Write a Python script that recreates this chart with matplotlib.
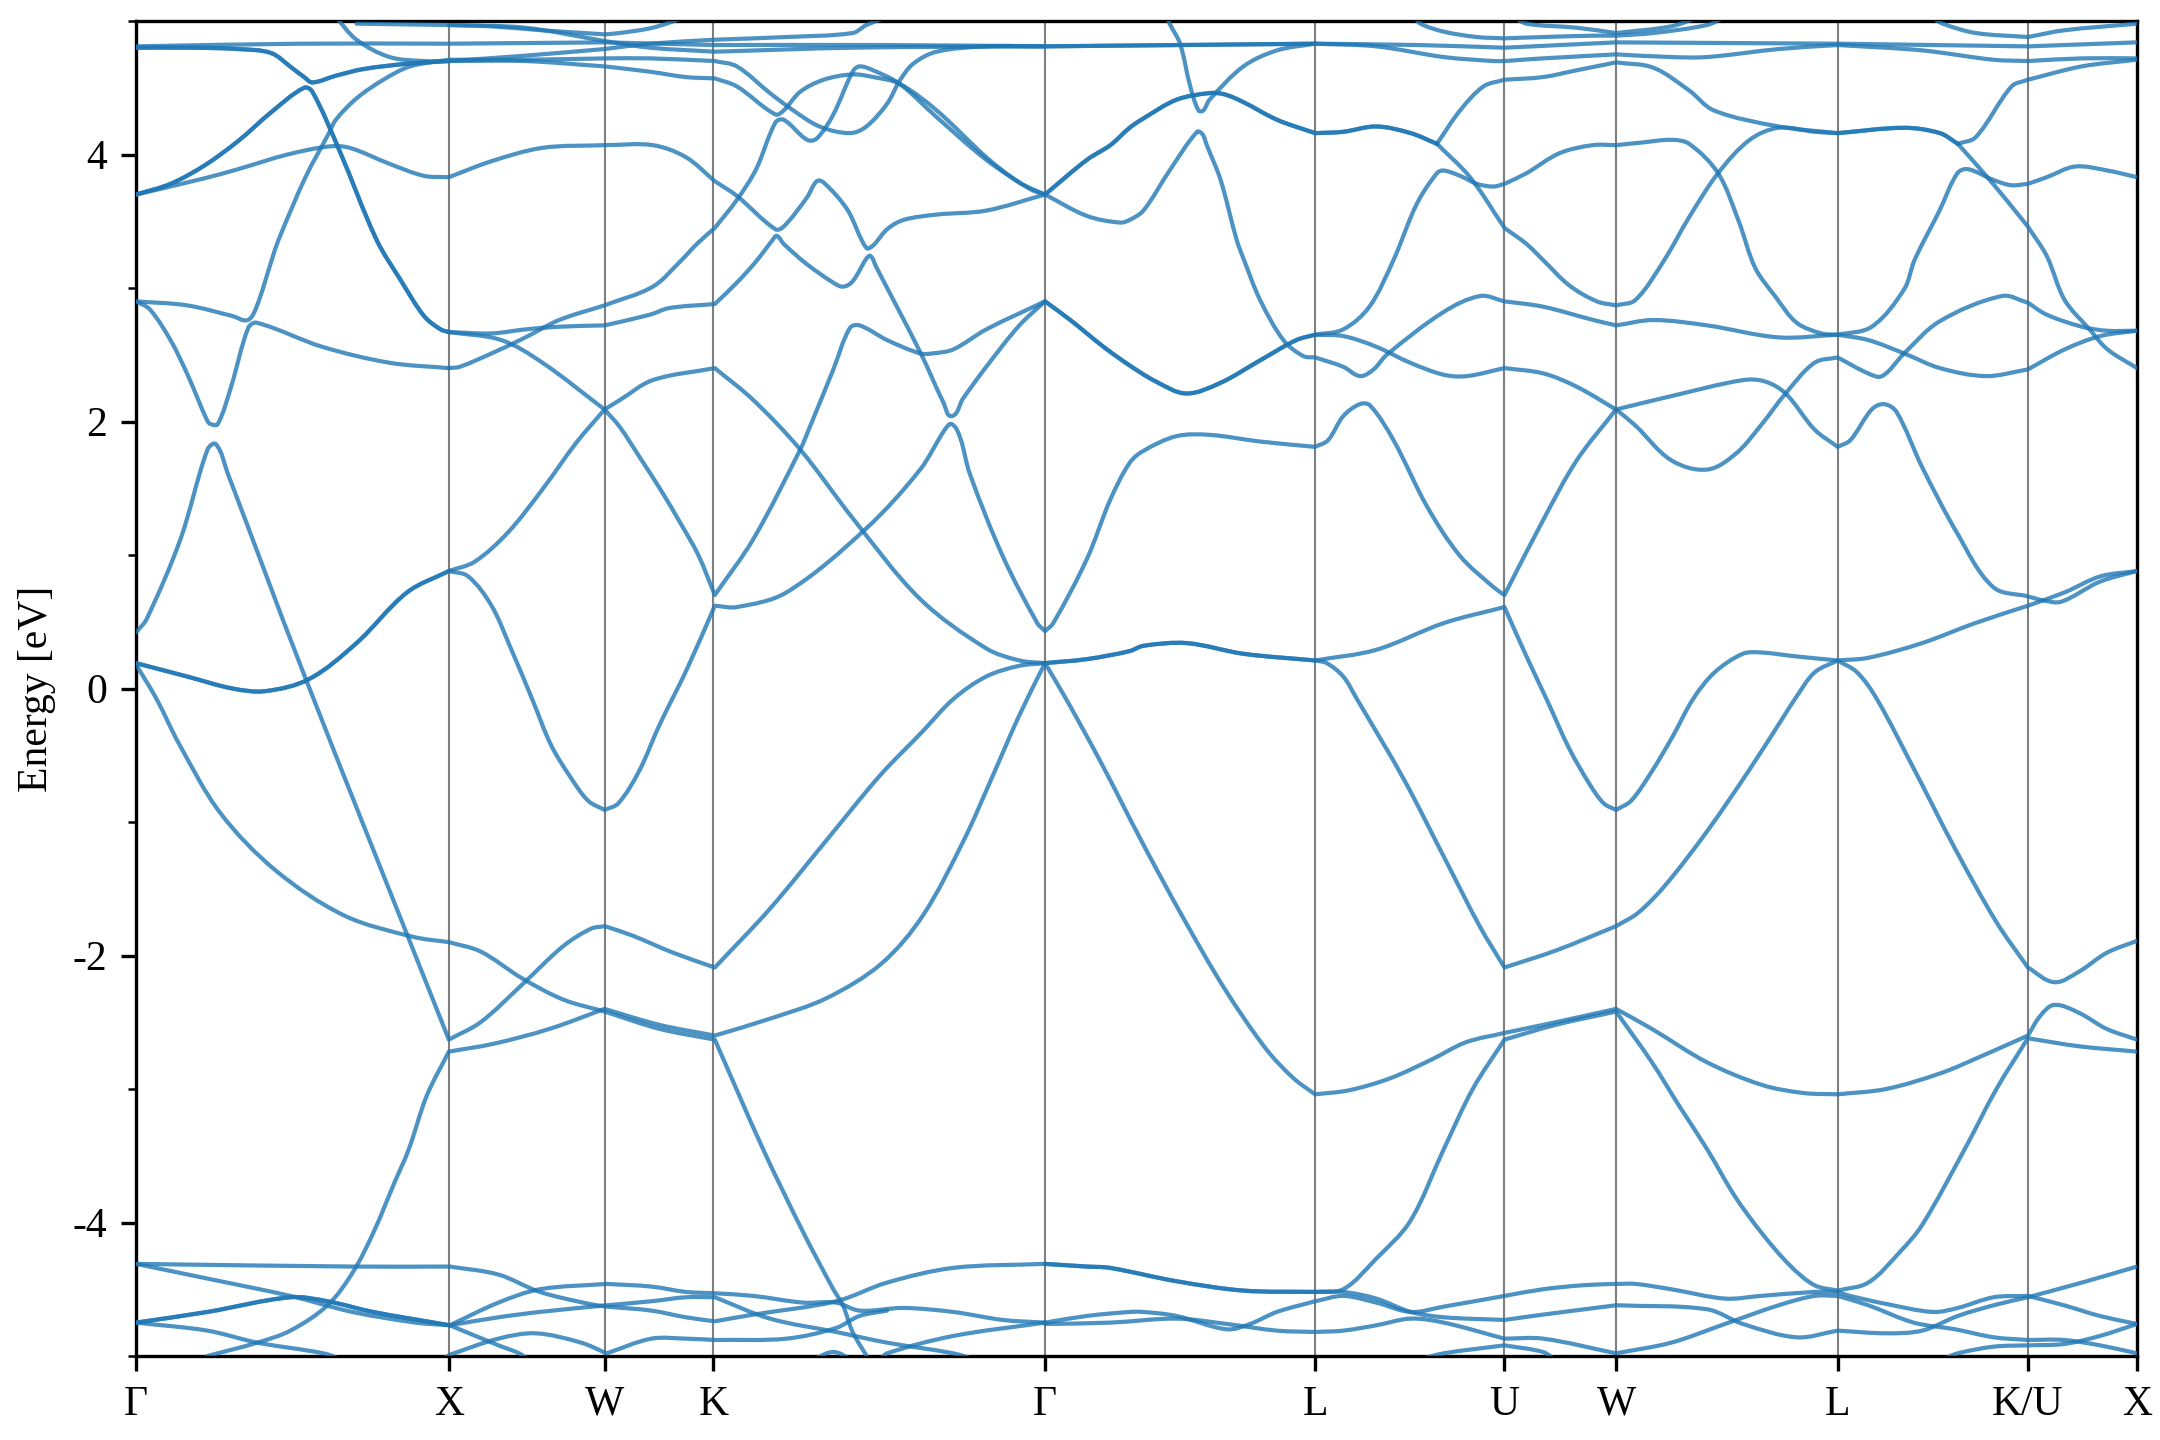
import matplotlib
matplotlib.use("Agg")

import math
import matplotlib.pyplot as plt
from matplotlib.path import Path
from matplotlib.patches import PathPatch
from matplotlib.ticker import MultipleLocator

# ================= DATA =================
# k = distance along the Brillouin-zone path (arb. units), E = energy in eV
HSP_LABELS = ["Γ", "X", "W", "K", "Γ", "L", "U", "W", "L", "K/U", "X"]
HSP_K = [0, 227, 340, 419, 659.6, 855.6, 993, 1074, 1234.8, 1372.8, 1452]

E_MIN, E_MAX = -5, 5

# bands that are (nearly) two-fold degenerate, drawn twice so they look darker
DEGENERATE_BANDS = [
    [(0, 4.80), (40, 4.80), (74, 4.79), (98, 4.76), (113, 4.65), (122, 4.58), (128, 4.54),
     (145, 4.59), (165, 4.64), (197, 4.68), (227, 4.70)],
    [(0, 3.70), (25, 3.78), (50, 3.92), (74, 4.10), (98.5, 4.32), (122, 4.50), (128, 4.47),
     (147.6, 4.03), (174.6, 3.36), (192, 3.06), (209, 2.79), (221, 2.69), (227, 2.67)],
    [(0, 0.19), (37, 0.09), (70, 0.0), (93.6, -0.02), (125.5, 0.07), (160, 0.34),
     (196.7, 0.72), (227, 0.88)],
    [(0, -4.75), (51.8, -4.67), (112, -4.56), (139, -4.59), (172, -4.67), (227.7, -4.77)],
    [(659.6, 3.70), (690, 3.96), (707, 4.07), (721, 4.20), (731, 4.27), (755, 4.41),
     (779, 4.46), (790, 4.45), (804, 4.39), (828, 4.26), (855.6, 4.16), (876, 4.17),
     (900, 4.21), (925, 4.16), (944, 4.08)],
    [(659.6, 2.90), (678, 2.76), (702, 2.56), (721, 2.42), (740, 2.30), (762, 2.21),
     (787, 2.29), (816, 2.46), (842, 2.61), (855.6, 2.65)],
    [(659.6, 0.19), (690, 0.22), (721, 0.28), (731, 0.32), (762.5, 0.34), (803.6, 0.26),
     (855.6, 0.21)],
    [(659.6, -4.31), (690, -4.33), (706.8, -4.34), (755, -4.44), (803.6, -4.51), (855.6, -4.52)],
    [(1234.8, 4.16), (1283, 4.20), (1309, 4.16), (1322, 4.08)],
]

UPPER_BANDS = [
    # flat band near 4.8 eV running along the whole path
    [(0, 4.81), (120, 4.83), (227, 4.83), (340, 4.84), (420, 4.82), (540, 4.82), (659.6, 4.81),
     (760, 4.82), (855.6, 4.83), (930, 4.82), (993, 4.80), (1074, 4.84), (1234.8, 4.83),
     (1372.8, 4.81), (1452, 4.84)],
    [(145, 5.03), (160, 4.86), (184, 4.73), (209, 4.70), (227, 4.70), (282, 4.74), (340, 4.79),
     (373, 4.83), (420, 4.86), (472, 4.88), (520, 4.91), (530, 4.97), (545, 5.03)],
    [(160, 4.98), (227, 4.97), (258, 4.96), (295, 4.93), (340, 4.90), (351, 4.91), (375, 4.95),
     (399, 5.03)],
    [(227, 4.97), (282, 4.95), (340, 4.85), (373, 4.80), (420, 4.77), (520, 4.80), (659.6, 4.81),
     (755, 4.82), (855.6, 4.83)],
    [(0, 3.70), (49, 3.82), (74, 3.89), (110, 4.00), (140, 4.06), (155, 4.05), (184, 3.93),
     (209, 3.84), (227, 3.83), (258, 3.95), (295, 4.05), (340, 4.07), (375, 4.07), (399, 3.98),
     (420, 3.80), (436, 3.69), (464, 3.44), (470, 3.46), (487, 3.68), (494, 3.80), (499, 3.79),
     (516, 3.59), (530, 3.30), (535, 3.32), (545, 3.44), (557, 3.51), (581, 3.55), (617, 3.58),
     (659.6, 3.70)],
    [(0, 2.90), (37, 2.87), (70, 2.79), (81, 2.76), (87.5, 2.86), (98.5, 3.21), (103.4, 3.36),
     (123, 3.83), (140, 4.16), (145, 4.26), (160, 4.42), (179.5, 4.56), (199, 4.66), (227, 4.71),
     (282, 4.71), (340, 4.72), (373, 4.72), (420, 4.70), (436, 4.66), (460, 4.46), (477, 4.33),
     (496, 4.21), (518, 4.16), (530, 4.21), (545, 4.38), (554, 4.55), (564, 4.68), (581, 4.77),
     (617, 4.81), (659.6, 4.81)],
    [(227, 4.70), (282, 4.70), (340, 4.66), (373, 4.62), (399, 4.58), (420, 4.57), (436, 4.51),
     (464, 4.30), (470, 4.33), (482, 4.47), (499, 4.56), (520, 4.60), (535, 4.58), (554, 4.53),
     (581, 4.33), (617, 3.98), (641, 3.79), (659.6, 3.70)],
    [(227, 2.67), (258, 2.66), (282.6, 2.69), (307, 2.71), (340, 2.72), (372.9, 2.80), (387, 2.85),
     (420, 2.88), (436, 3.04), (450, 3.20), (462, 3.36), (465, 3.39), (470, 3.33), (486.6, 3.18),
     (506, 3.04), (513, 3.01), (520, 3.05), (530, 3.22), (533, 3.24), (537, 3.16), (569, 2.52),
     (586, 2.14), (592, 2.04), (600, 2.17), (617, 2.41), (641, 2.72), (659.6, 2.90)],
    [(227, 2.40), (235, 2.41), (258, 2.51), (282.6, 2.63), (307, 2.76), (340, 2.87), (375, 3.01),
     (395, 3.20), (407, 3.33), (420, 3.45), (436, 3.66), (450, 3.89), (464, 4.24), (470, 4.26),
     (487, 4.11), (494, 4.12), (506, 4.30), (520, 4.62), (525, 4.66), (535, 4.63), (554, 4.53),
     (581, 4.28), (617, 3.96), (649, 3.74), (659.6, 3.70)],
    [(0, 2.90), (10, 2.84), (25, 2.61), (37, 2.36), (52, 2.00), (54.4, 1.98), (59.3, 1.98),
     (69, 2.26), (81.4, 2.70), (87.5, 2.74), (135, 2.56), (184, 2.44), (227, 2.40)],
    [(748, 5.03), (750, 4.98), (757.6, 4.83), (765, 4.51), (771, 4.33), (774.5, 4.33), (779, 4.41),
     (803.6, 4.66), (828, 4.78), (855.6, 4.83)],
    [(659.6, 3.70), (690, 3.54), (714, 3.49), (721, 3.51), (731, 3.58), (750, 3.88), (770, 4.17),
     (774, 4.15), (777, 4.07), (787, 3.81), (798.7, 3.36), (804, 3.21), (815.7, 2.91),
     (832.6, 2.61), (847, 2.49), (855.6, 2.48), (876, 2.41), (888.3, 2.34), (898, 2.39),
     (907.6, 2.50), (948.8, 2.82), (975.4, 2.94), (993, 2.90), (1021, 2.86), (1057.6, 2.76),
     (1074, 2.72), (1101, 2.76), (1140, 2.72), (1192, 2.63), (1234.8, 2.65), (1257, 2.61),
     (1283, 2.51), (1309, 2.40), (1342.4, 2.34), (1372.8, 2.39), (1399.5, 2.54), (1425.4, 2.64),
     (1452, 2.68)],
    [(855.6, 2.65), (876, 2.64), (900, 2.56), (924.6, 2.44), (949, 2.35), (965.7, 2.34), (993, 2.40),
     (1021.3, 2.36), (1045.5, 2.26), (1074, 2.09), (1088, 1.97), (1114, 1.71), (1140, 1.64),
     (1161, 1.76), (1179, 1.97), (1197, 2.21), (1218, 2.44), (1234.8, 2.48), (1257, 2.36),
     (1267, 2.34), (1283, 2.51), (1308.7, 2.75), (1354, 2.94), (1372.8, 2.89), (1386.5, 2.80),
     (1412, 2.71), (1430, 2.68), (1452, 2.68)],
    [(944, 4.08), (960.8, 4.33), (977.8, 4.51), (993, 4.56), (1021, 4.58), (1045, 4.63),
     (1074, 4.69), (1101, 4.65), (1127, 4.48), (1145, 4.33), (1192, 4.21), (1234.8, 4.16)],
    [(944, 4.08), (968, 3.83), (993, 3.45), (1009, 3.33), (1021, 3.21), (1040, 3.02), (1060, 2.90),
     (1074, 2.87), (1088, 2.91), (1109, 3.21), (1127, 3.53), (1148, 3.86), (1171, 4.11),
     (1192, 4.20), (1218, 4.17), (1234.8, 4.16)],
    [(855.6, 2.65), (876, 2.69), (895, 2.86), (912.5, 3.21), (929.4, 3.63), (944, 3.86),
     (948.8, 3.88), (960.8, 3.84), (973, 3.78), (985, 3.76), (993, 3.78), (1009, 3.86),
     (1033, 4.01), (1057, 4.07), (1074, 4.07), (1093, 4.09), (1114, 4.11), (1127, 4.08),
     (1148, 3.86), (1163, 3.50), (1175, 3.15), (1190, 2.93), (1205, 2.74), (1223, 2.66),
     (1234.8, 2.65), (1259.5, 2.71), (1283, 2.99), (1290.6, 3.21), (1308.7, 3.58), (1321.7, 3.86),
     (1329.4, 3.89), (1347.6, 3.81), (1360.6, 3.77), (1372.8, 3.78), (1386.5, 3.83),
     (1407.2, 3.91), (1430.6, 3.88), (1452, 3.83)],
    [(1322, 4.08), (1335, 4.13), (1361, 4.51), (1372.8, 4.56), (1412, 4.66), (1452, 4.71)],
    [(1322, 4.08), (1347.6, 3.78), (1372.8, 3.46), (1386.5, 3.24), (1399.5, 2.91), (1417.6, 2.69),
     (1430.6, 2.54), (1452, 2.40)],
    [(855.6, 4.83), (900, 4.81), (949, 4.73), (985, 4.70), (993, 4.70), (1021, 4.72), (1074, 4.75),
     (1114, 4.73), (1140, 4.73), (1192, 4.79), (1234.8, 4.82), (1296, 4.78), (1347.6, 4.71),
     (1372.8, 4.70), (1412, 4.72), (1452, 4.72)],
    [(928, 5.03), (932, 4.98), (949, 4.92), (973, 4.88), (993, 4.87), (1021, 4.88), (1057, 4.89),
     (1074, 4.89), (1101, 4.91), (1140, 4.97), (1153, 5.03)],
    [(1000, 5.03), (1009, 4.98), (1045, 4.95), (1074, 4.91), (1114, 4.96), (1134, 5.03)],
    [(1303, 5.03), (1311, 4.98), (1335, 4.91), (1372.8, 4.88), (1399, 4.93), (1452, 4.98)],
]

MIDDLE_BANDS = [
    [(0, 0.42), (7.7, 0.52), (32.3, 1.12), (51.9, 1.79), (58, 1.83), (66.6, 1.61), (120.6, 0.14),
     (227, -2.63), (250, -2.50), (280, -2.22), (310, -1.93), (330, -1.80), (340, -1.78),
     (360, -1.85), (390, -1.98), (420, -2.09), (460, -1.65), (500, -1.15), (540, -0.65),
     (570, -0.33), (593, -0.08), (617, 0.09), (641, 0.17), (659.6, 0.19)],
    [(0, 0.18), (15, -0.08), (31, -0.41), (61, -0.93), (101, -1.36), (151, -1.70), (201, -1.86),
     (227, -1.90), (250, -1.97), (280, -2.17), (310, -2.33), (340, -2.42), (380, -2.55),
     (420, -2.63), (455, -3.45), (484, -4.07), (506, -4.50), (513, -4.62), (520, -4.82),
     (532, -5.03)],
    [(51.8, -5.0), (88, -4.90), (112, -4.81), (139, -4.62), (157.5, -4.37), (172.5, -4.07),
     (187.6, -3.70), (198, -3.45), (211, -3.05), (227, -2.72), (260, -2.66), (300, -2.55),
     (340, -2.40), (380, -2.52), (420, -2.60), (461, -2.47), (501, -2.32), (541, -2.06),
     (571, -1.70), (601, -1.13), (621, -0.67), (641, -0.20), (659.6, 0.19)],
    [(227, 2.67), (265, 2.61), (295, 2.44), (340, 2.09), (351, 1.96), (365, 1.74), (380, 1.50),
     (395, 1.24), (408, 1.00), (420, 0.70), (448, 1.12), (482, 1.79), (489, 1.96), (506, 2.39),
     (518, 2.70), (525, 2.72), (545, 2.61), (569, 2.51), (578, 2.51), (593, 2.54), (617, 2.69),
     (659.6, 2.90)],
    [(227, 0.88), (241, 0.84), (258, 0.62), (272, 0.30), (287.5, -0.08), (301, -0.42),
     (315, -0.66), (328, -0.84), (340, -0.91), (350, -0.86), (365, -0.62), (380, -0.27),
     (400, 0.15), (420, 0.62), (436, 0.61), (472, 0.72), (530, 1.20), (569, 1.64), (587, 1.94),
     (592, 1.98), (598, 1.88), (605, 1.61), (629, 0.99), (654, 0.49), (659.6, 0.43),
     (665.6, 0.49), (690, 0.97), (706.8, 1.41), (721, 1.69), (731, 1.78), (755, 1.89),
     (779, 1.90), (815.7, 1.85), (855.6, 1.81), (865, 1.86), (876, 2.04), (888, 2.13),
     (895.5, 2.12), (912.5, 1.86), (937, 1.36), (961, 0.99), (985, 0.76), (993, 0.70),
     (1021, 1.26), (1045.5, 1.71), (1074, 2.09), (1114, 2.19), (1166, 2.31), (1182, 2.30),
     (1197, 2.21), (1218, 1.94), (1234.8, 1.81), (1244, 1.86), (1259.5, 2.09), (1268.5, 2.13),
     (1277.6, 2.07), (1296, 1.66), (1321.7, 1.16), (1347.6, 0.76), (1372.8, 0.69), (1384, 0.66),
     (1397, 0.65), (1425, 0.80), (1452, 0.88)],
    [(227, 0.88), (245.8, 0.95), (270, 1.17), (294.8, 1.49), (319.4, 1.84), (340, 2.09),
     (351, 2.16), (375, 2.31), (420, 2.40), (448, 2.16), (482, 1.79), (520.5, 1.27), (569, 0.67),
     (617, 0.30), (641, 0.21), (659.6, 0.19)],
    [(659.6, 0.19), (675, -0.08), (700, -0.55), (730, -1.15), (760, -1.72), (790, -2.25),
     (820, -2.70), (840, -2.92), (855.6, -3.04), (880, -3.01), (910, -2.92), (940, -2.78),
     (965, -2.65), (993, -2.58), (1030, -2.50), (1074, -2.40), (1100, -2.55), (1140, -2.80),
     (1180, -2.97), (1210, -3.03), (1234.8, -3.04), (1270, -3.0), (1310, -2.88), (1340, -2.75),
     (1372.8, -2.60), (1382, -2.45), (1392, -2.37), (1410, -2.43), (1430, -2.55), (1452, -2.63)],
    [(855.6, 0.21), (900, 0.29), (949, 0.49), (993, 0.61), (1009, 0.24), (1024, -0.09),
     (1040, -0.45), (1055, -0.72), (1065, -0.86), (1074, -0.91), (1085, -0.84), (1100, -0.62),
     (1115, -0.36), (1129.8, -0.08), (1145.4, 0.12), (1166, 0.26), (1179, 0.27), (1205, 0.24),
     (1234.8, 0.21), (1257, 0.23), (1296, 0.34), (1334.6, 0.49), (1372.8, 0.62), (1399.5, 0.72),
     (1425.4, 0.84), (1452, 0.88)],
    [(855.6, 0.21), (864, 0.19), (876, 0.09), (886, -0.08), (920, -0.68), (950, -1.28),
     (975, -1.78), (993, -2.09), (1031, -1.96), (1074, -1.78), (1090, -1.68), (1110, -1.47),
     (1140, -1.07), (1170, -0.62), (1195, -0.22), (1203.7, -0.08), (1218, 0.12), (1234.8, 0.21),
     (1249, 0.12), (1263.3, -0.08), (1290, -0.6), (1320, -1.2), (1350, -1.75), (1372.8, -2.09),
     (1392, -2.2), (1410, -2.12), (1430, -1.98), (1452, -1.89)],
    [(855.6, -4.52), (876, -4.50), (900, -4.27), (924.6, -3.99), (949, -3.45), (970, -3.0),
     (993, -2.63), (1030, -2.52), (1074, -2.42), (1100, -2.8), (1120, -3.13), (1140, -3.45),
     (1160, -3.80), (1179, -4.07), (1200, -4.32), (1218, -4.47), (1234.8, -4.51), (1257, -4.45),
     (1280, -4.22), (1296, -4.02), (1327, -3.45), (1350, -3.00), (1372.8, -2.62), (1410, -2.68),
     (1452, -2.72)],
]

LOWER_BANDS = [
    [(0, -4.31), (157, -4.33), (227.7, -4.33), (263, -4.39), (293, -4.52), (329, -4.61),
     (341.5, -4.63), (374, -4.66), (399, -4.71), (420, -4.74), (448, -4.69), (508, -4.59),
     (545, -4.45), (593, -4.34), (659.6, -4.31)],
    [(0, -4.31), (51.8, -4.42), (112, -4.55), (157, -4.67), (203, -4.75), (227.7, -4.77),
     (263, -4.71), (293, -4.67), (341.5, -4.62), (374, -4.59), (399, -4.56), (420, -4.56),
     (460, -4.72), (508, -4.82), (545, -4.90), (593, -4.98), (610, -5.03)],
    [(227.7, -4.77), (263, -4.60), (293, -4.50), (341.5, -4.46), (374, -4.48), (399, -4.52),
     (420, -4.53), (448, -4.55), (484, -4.60), (508, -4.60), (525, -4.66), (557, -4.64),
     (593, -4.67), (629, -4.73), (659.6, -4.75)],
    [(0, -4.75), (51.8, -4.81), (88, -4.90), (136, -4.98), (150, -5.03)],
    [(227.7, -4.77), (263, -4.92), (278, -4.98), (285, -5.03)],
    [(222, -5.03), (227.7, -4.99), (263, -4.87), (290, -4.83), (323, -4.90), (341.5, -4.98),
     (374, -4.87), (399, -4.87), (420, -4.88), (472, -4.87), (508, -4.79), (525, -4.70),
     (545, -4.66)],
    [(491, -5.03), (506, -4.97), (520, -5.03)],
    [(540, -5.03), (545, -4.98), (593, -4.85), (659.6, -4.75)],
    [(659.6, -4.75), (690, -4.70), (721, -4.67), (731, -4.67), (755, -4.70), (791.5, -4.80),
     (808.4, -4.76), (827.8, -4.67), (855.6, -4.59), (876, -4.55), (900, -4.60), (925, -4.67),
     (949, -4.63), (993, -4.55), (1021, -4.50), (1050, -4.47), (1074, -4.46), (1088, -4.46),
     (1114, -4.50), (1153, -4.57), (1179, -4.55), (1218, -4.52), (1234.8, -4.52), (1244, -4.55),
     (1270, -4.61), (1304, -4.67), (1322, -4.64), (1348, -4.56), (1372.8, -4.55), (1399, -4.62),
     (1425, -4.70), (1452, -4.76)],
    [(659.6, -4.76), (706.8, -4.75), (755, -4.72), (791.5, -4.76), (827.8, -4.81), (855.6, -4.82),
     (876, -4.81), (900, -4.77), (925, -4.72), (949, -4.75), (993, -4.87), (1021, -4.87),
     (1074, -4.98), (1114, -4.90), (1153, -4.76), (1192, -4.62), (1218, -4.55), (1234.8, -4.55),
     (1257, -4.62), (1290, -4.75), (1320, -4.80), (1348, -4.86), (1372.8, -4.88), (1399, -4.88),
     (1425, -4.92), (1452, -4.98)],
    [(855.6, -4.52), (876, -4.52), (900, -4.57), (925, -4.67), (949, -4.71), (993, -4.73),
     (1021, -4.69), (1074, -4.62), (1140, -4.65), (1166, -4.76), (1205, -4.86), (1234.8, -4.81),
     (1270, -4.83), (1296, -4.81), (1322, -4.70), (1348, -4.62), (1372.8, -4.56), (1412, -4.45),
     (1452, -4.33)],
    [(930, -5.03), (949, -4.98), (993, -4.92), (1021, -4.97), (1030, -5.03)],
    [(1310, -5.03), (1322, -4.98), (1348, -4.93), (1372.8, -4.92), (1399, -4.91), (1425, -4.85),
     (1452, -4.76)],
]
# =========================================

BAND_COLOR = "#1f77b4"
# rough aspect of the axes box (pixels per k unit / per eV), only used to
# orient the smooth curve tangents through the read points
K_PX = 2001 / 1452
E_PX = 1335 / 10


def _unit(dx, dy):
    norm = math.hypot(dx, dy) or 1.0
    return dx / norm, dy / norm


def is_hsp(k):
    return any(abs(k - h) < 2.5 for h in HSP_K)


def smooth_band_path(pts):
    """Cubic curve through every read point.

    Tangents come from the neighbouring points; at high-symmetry points each
    path segment keeps its own one-sided tangent, so cusps stay sharp.
    """
    xs = [p[0] * K_PX for p in pts]
    ys = [p[1] * E_PX for p in pts]
    n = len(pts)
    t_in, t_out = [], []
    for i in range(n):
        a = max(i - 1, 0)
        b = min(i + 1, n - 1)
        central = _unit(xs[b] - xs[a], ys[b] - ys[a])
        if 0 < i < n - 1 and is_hsp(pts[i][0]):
            t_in.append(_unit(xs[i] - xs[i - 1], ys[i] - ys[i - 1]))
            t_out.append(_unit(xs[i + 1] - xs[i], ys[i + 1] - ys[i]))
        else:
            t_in.append(central)
            t_out.append(central)

    verts = [(xs[0], ys[0])]
    codes = [Path.MOVETO]
    for i in range(n - 1):
        seg = math.hypot(xs[i + 1] - xs[i], ys[i + 1] - ys[i]) / 3.0
        c1 = (xs[i] + t_out[i][0] * seg, ys[i] + t_out[i][1] * seg)
        c2 = (xs[i + 1] - t_in[i + 1][0] * seg, ys[i + 1] - t_in[i + 1][1] * seg)
        verts += [c1, c2, (xs[i + 1], ys[i + 1])]
        codes += [Path.CURVE4] * 3
    verts = [(x / K_PX, y / E_PX) for x, y in verts]
    return Path(verts, codes)


def draw_band(ax, pts, passes=1):
    path = smooth_band_path(pts)
    for _ in range(passes):
        patch = PathPatch(path, facecolor="none", edgecolor=BAND_COLOR, alpha=0.8,
                          lw=1.0, capstyle="round", joinstyle="round", zorder=3)
        ax.add_patch(patch)


def main():
    plt.rcParams["font.family"] = ["Liberation Serif", "DejaVu Serif"]
    plt.rcParams["font.size"] = 10
    plt.rcParams["axes.unicode_minus"] = False

    fig = plt.figure(figsize=(7.2, 4.8), dpi=300)
    ax = fig.add_axes([136 / 2160, 84 / 1440, 2001 / 2160, 1335 / 1440])

    for kx in HSP_K[1:-1]:
        ax.axvline(kx, color="k", alpha=0.5, lw=0.5, zorder=2)

    for pts in UPPER_BANDS + MIDDLE_BANDS + LOWER_BANDS:
        draw_band(ax, pts)
    for pts in DEGENERATE_BANDS:
        draw_band(ax, pts, passes=2)

    ax.set_xlim(HSP_K[0], HSP_K[-1])
    ax.set_ylim(E_MIN, E_MAX)
    ax.set_xticks(HSP_K)
    ax.set_xticklabels(HSP_LABELS)
    ax.yaxis.set_major_locator(MultipleLocator(2))
    ax.yaxis.set_minor_locator(MultipleLocator(1))
    ax.set_ylabel("Energy [eV]")

    fig.savefig("out.png", dpi=300)
    plt.close(fig)


if __name__ == "__main__":
    main()
